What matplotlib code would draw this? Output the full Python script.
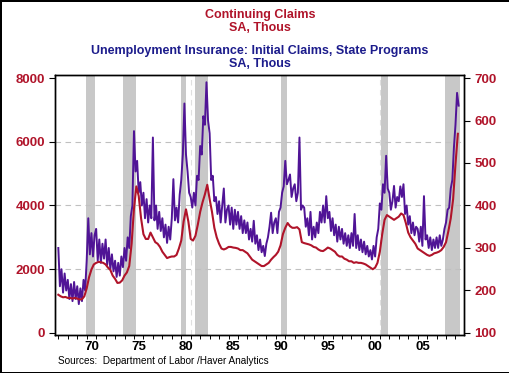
import numpy as np
import matplotlib
matplotlib.use('Agg')
import matplotlib.pyplot as plt

# colours
red = '#b0142a'
purple = '#501496'
navy = '#1c1c8c'

# Continuing claims, SA, thous (quarterly, starts 1967 Q1)
cont_start = 1967.0
continuing_claims = [
    1200, 1150, 1120, 1130,   # 1967
    1100, 1100, 1080, 1100,   # 1968
    1080, 1050, 1060, 1150,   # 1969
    1400, 1750, 1990, 2150,   # 1970
    2200, 2230, 2220, 2200,   # 1971
    2150, 2050, 1980, 1800,   # 1972
    1700, 1570, 1580, 1650,   # 1973
    1800, 1900, 2100, 2800,   # 1974
    3900, 4600, 4300, 3600,   # 1975
    3100, 2950, 2950, 3150,   # 1976
    3000, 2850, 2800, 2700,   # 1977
    2550, 2450, 2350, 2380,   # 1978
    2400, 2400, 2450, 2650,   # 1979
    2900, 3500, 3880, 3500,   # 1980
    2950, 2900, 3050, 3400,   # 1981
    3800, 4100, 4350, 4650,   # 1982
    4200, 3800, 3300, 3000,   # 1983
    2800, 2650, 2620, 2650,   # 1984
    2700, 2700, 2680, 2670,   # 1985
    2650, 2600, 2600, 2550,   # 1986
    2500, 2400, 2300, 2250,   # 1987
    2200, 2150, 2100, 2100,   # 1988
    2150, 2200, 2300, 2380,   # 1989
    2450, 2550, 2750, 3100,   # 1990
    3300, 3450, 3350, 3300,   # 1991
    3300, 3320, 3250, 2850,   # 1992
    2820, 2800, 2780, 2750,   # 1993
    2700, 2680, 2620, 2580,   # 1994
    2570, 2620, 2680, 2650,   # 1995
    2600, 2550, 2450, 2400,   # 1996
    2400, 2330, 2300, 2250,   # 1997
    2250, 2200, 2220, 2200,   # 1998
    2200, 2180, 2150, 2100,   # 1999
    2050, 2000, 2050, 2200,   # 2000
    2550, 3100, 3550, 3700,   # 2001
    3650, 3600, 3550, 3600,   # 2002
    3650, 3750, 3700, 3450,   # 2003
    3150, 3000, 2900, 2800,   # 2004
    2650, 2600, 2550, 2500,   # 2005
    2450, 2420, 2450, 2500,   # 2006
    2520, 2550, 2600, 2700,   # 2007
    2850, 3200, 3600, 4200,   # 2008
    5300, 6250,               # 2009
]

# Initial claims, state programs, SA, thous (every 2 months, starts Jan 1967)
init_start = 1967.0
initial_claims = [
    300, 210, 250, 195, 240, 200,   # 1967
    225, 180, 215, 175, 220, 180,   # 1968
    210, 168, 205, 175, 225, 200,   # 1969
    270, 370, 285, 335, 280, 330,   # 1970
    345, 270, 320, 265, 310, 275,   # 1971
    320, 260, 300, 250, 285, 245,   # 1972
    270, 232, 265, 235, 280, 255,   # 1973
    300, 270, 325, 300, 375, 400,   # 1974
    575, 480, 505, 430, 455, 400,   # 1975
    430, 370, 415, 360, 400, 370,   # 1976
    560, 365, 400, 345, 385, 340,   # 1977
    370, 325, 355, 312, 350, 320,   # 1978
    370, 462, 365, 395, 360, 425,   # 1979
    460, 520, 640, 520, 480, 430,   # 1980
    420, 395, 430, 400, 470, 460,   # 1981
    540, 520, 610, 590, 690, 600,   # 1982
    570, 460, 470, 410, 420, 380,   # 1983
    410, 360, 400, 440, 360, 390,   # 1984
    400, 355, 395, 345, 390, 355,   # 1985
    385, 345, 375, 335, 365, 335,   # 1986
    360, 320, 345, 315, 364, 310,   # 1987
    330, 295, 320, 290, 305, 281,   # 1988
    310, 325, 350, 383, 335, 360,   # 1989
    370, 335, 385, 395, 430, 445,   # 1990
    505, 450, 460, 473, 420, 440,   # 1991
    450, 410, 430, 560, 390, 400,   # 1992
    395, 350, 370, 330, 385, 320,   # 1993
    350, 325, 360, 335, 385, 360,   # 1994
    400, 360, 422, 370, 385, 340,   # 1995
    370, 330, 355, 315, 350, 320,   # 1996
    345, 310, 335, 305, 330, 300,   # 1997
    335, 305, 380, 300, 330, 295,   # 1998
    320, 290, 315, 285, 305, 280,   # 1999
    295, 273, 305, 280, 325, 345,   # 2000
    405, 390, 450, 430, 517, 440,   # 2001
    430, 390, 410, 446, 395, 420,   # 2002
    410, 445, 420, 450, 380, 400,   # 2003
    355, 375, 335, 360, 330, 350,   # 2004
    345, 315, 350, 305, 422, 320,   # 2005
    330, 300, 325, 295, 320, 300,   # 2006
    325, 300, 330, 305, 320, 345,   # 2007
    360, 390, 395, 440, 460, 536,   # 2008
    590, 665, 635,                  # 2009
]

# NBER recessions (decimal years)
rec_start = [1969.92, 1973.83, 1980.0, 1981.5, 1990.5, 2001.17, 2007.92]
rec_end = [1970.83, 1975.17, 1980.5, 1982.83, 1991.17, 2001.83, 2009.5]

year_labels = ['70', '75', '80', '85', '90', '95', '00', '05']
label_years = [1970, 1975, 1980, 1985, 1990, 1995, 2000, 2005]

cont_x = cont_start + np.arange(len(continuing_claims)) / 4
init_x = init_start + np.arange(len(initial_claims)) / 6

plt.rcParams['font.family'] = ['Liberation Sans', 'DejaVu Sans']

fig = plt.figure(figsize=(5.1, 3.73), dpi=100, edgecolor='black', linewidth=2)
ax2 = fig.add_axes([0.1088, 0.1019, 0.801, 0.697])
ax = ax2.twinx()
ax.yaxis.tick_left()
ax.yaxis.set_label_position('left')
ax2.yaxis.tick_right()

# shading and grid behind the lines
for s, e in zip(rec_start, rec_end):
    ax2.axvspan(s, e, color='#c8c8c8', lw=0, zorder=0)
for yv in [2000, 4000, 6000]:
    ax2.axhline(100 + yv * 0.075, color='#c0c0c0', lw=0.8, ls=(0, (5, 4)), zorder=0.5)
for xv in [1981, 2001]:
    ax2.axvline(xv, color='#e0e0e0', lw=0.8, ls=(0, (5, 4)), zorder=0.5)

ax2.plot(init_x, initial_claims, color=purple, lw=1.4, zorder=2)
ax.plot(cont_x, continuing_claims, color=red, lw=1.5, zorder=3)

ax.set_ylim(-63, 8094)
ax2.set_ylim(100 - 63 * 0.075, 100 + 8094 * 0.075)
ax.set_xlim(1966.7, 2009.9)

ax.set_yticks([0, 2000, 4000, 6000, 8000])
ax2.set_yticks([100, 200, 300, 400, 500, 600, 700])
ax.tick_params(axis='y', colors='black', labelcolor=red, labelsize=9.5, length=4, width=0.8)
ax2.tick_params(axis='y', colors='black', labelcolor=red, labelsize=9.5, length=4, width=0.8)
for lab in ax.get_yticklabels() + ax2.get_yticklabels():
    lab.set_fontweight('bold')

ax2.set_xticks([y + 0.5 for y in label_years])
ax2.set_xticklabels(year_labels, fontsize=9.5, fontweight='bold')
ax2.set_xticks(np.arange(1967, 2010), minor=True)
ax2.tick_params(axis='x', which='major', length=0, pad=4)
ax2.tick_params(axis='x', which='minor', length=3, width=0.7)

for a in (ax, ax2):
    for sp in a.spines.values():
        sp.set_linewidth(1.0)

fig.text(0.51, 0.942, 'Continuing Claims\nSA, Thous', color=red, ha='center', va='center',
         fontsize=9, fontweight='bold', linespacing=1.05)
fig.text(0.51, 0.846, 'Unemployment Insurance: Initial Claims, State Programs\nSA, Thous',
         color=navy, ha='center', va='center', fontsize=9, fontweight='bold', linespacing=1.05)
fig.text(0.114, 0.032, 'Sources:  Department of Labor /Haver Analytics', fontsize=7.2,
         ha='left', va='center')

fig.savefig('out.png', dpi=100)
